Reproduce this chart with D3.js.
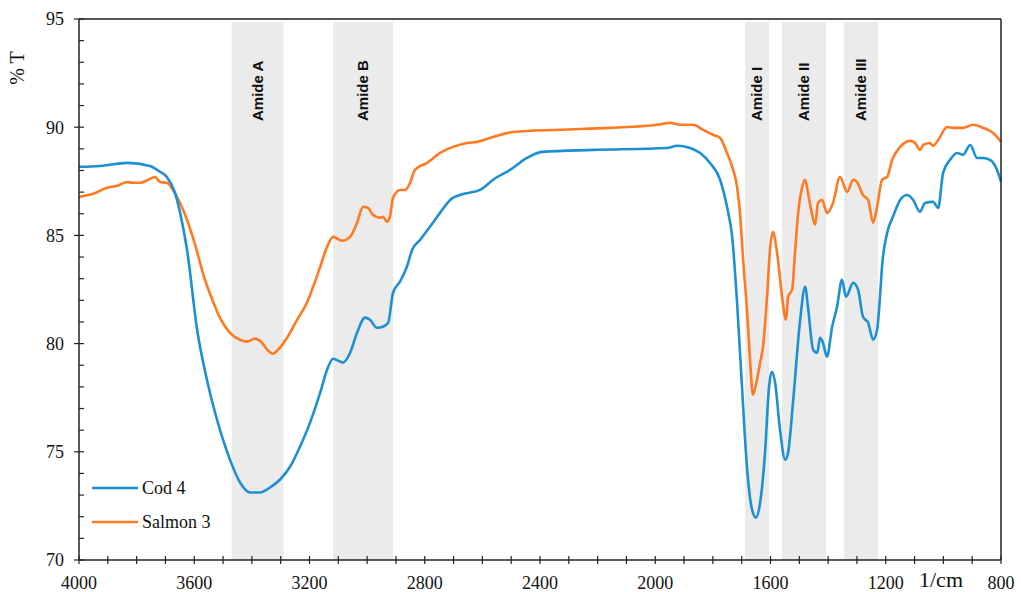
<!DOCTYPE html>
<html>
<head>
<meta charset="utf-8">
<script src="https://cdn.jsdelivr.net/npm/d3@7"></script>
<style>
  html, body { margin: 0; padding: 0; background: #fff; }
  svg { display: block; }
</style>
</head>
<body>
<svg id="chart" width="1021" height="592"></svg>
<script>
// FTIR transmittance spectra (wavenumber in 1/cm, %T)
const codWavenumber = [4000, 3927, 3833, 3754, 3719, 3695, 3667, 3649, 3625, 3590, 3556, 3521, 3476, 3441, 3406, 3372, 3337, 3302, 3267, 3233, 3198, 3163, 3139, 3118, 3084, 3059, 3035, 3007, 2990, 2966, 2945, 2927, 2910, 2886, 2862, 2844, 2816, 2782, 2747, 2712, 2678, 2608, 2563, 2504, 2445, 2393, 2216, 1959, 1924, 1879, 1844, 1810, 1775, 1751, 1733, 1716, 1699, 1681, 1664, 1650, 1636, 1619, 1605, 1595, 1584, 1567, 1549, 1539, 1522, 1497, 1480, 1470, 1452, 1438, 1428, 1418, 1404, 1386, 1369, 1352, 1338, 1313, 1296, 1279, 1261, 1244, 1230, 1220, 1213, 1195, 1175, 1150, 1126, 1105, 1081, 1064, 1036, 1018, 1001, 977, 952, 932, 907, 883, 862, 838, 814, 800];
const codT = [88.17, 88.21, 88.35, 88.21, 87.94, 87.70, 86.97, 86.04, 84.33, 80.64, 78.33, 76.49, 74.64, 73.58, 73.12, 73.12, 73.35, 73.72, 74.32, 75.24, 76.35, 77.73, 78.79, 79.30, 79.12, 79.58, 80.50, 81.20, 81.10, 80.73, 80.78, 80.96, 82.35, 82.86, 83.55, 84.33, 84.80, 85.40, 86.04, 86.64, 86.87, 87.10, 87.57, 88.03, 88.58, 88.86, 88.95, 89.04, 89.14, 89.04, 88.81, 88.35, 87.57, 86.32, 84.93, 81.89, 78.01, 74.18, 72.33, 71.96, 72.65, 74.96, 78.01, 78.70, 78.19, 76.02, 74.64, 74.96, 77.27, 81.10, 82.63, 81.70, 79.72, 79.58, 80.27, 80.04, 79.40, 80.78, 81.70, 82.95, 82.17, 82.81, 82.49, 81.24, 80.96, 80.18, 80.64, 82.17, 83.55, 85.12, 85.86, 86.64, 86.87, 86.64, 86.09, 86.50, 86.55, 86.27, 87.89, 88.49, 88.81, 88.72, 89.18, 88.58, 88.58, 88.49, 88.03, 87.47];

const salmonWavenumber = [4000, 3951, 3903, 3868, 3833, 3813, 3788, 3760, 3736, 3719, 3695, 3674, 3649, 3625, 3600, 3563, 3535, 3511, 3476, 3441, 3417, 3389, 3365, 3347, 3327, 3309, 3278, 3243, 3209, 3181, 3163, 3139, 3118, 3087, 3059, 3035, 3014, 2997, 2980, 2955, 2945, 2931, 2921, 2910, 2886, 2868, 2851, 2834, 2792, 2747, 2702, 2653, 2619, 2563, 2494, 2330, 2157, 1994, 1949, 1914, 1869, 1834, 1799, 1775, 1751, 1733, 1716, 1706, 1695, 1681, 1671, 1661, 1647, 1636, 1626, 1612, 1601, 1591, 1584, 1574, 1560, 1546, 1539, 1525, 1515, 1504, 1490, 1480, 1470, 1459, 1445, 1435, 1421, 1404, 1383, 1359, 1334, 1313, 1300, 1279, 1261, 1244, 1230, 1213, 1195, 1178, 1150, 1116, 1098, 1081, 1070, 1046, 1036, 1018, 987, 966, 932, 897, 862, 828, 800];
const salmonT = [86.78, 86.92, 87.20, 87.29, 87.47, 87.43, 87.43, 87.57, 87.70, 87.47, 87.43, 87.10, 86.50, 85.72, 84.70, 82.95, 81.95, 81.20, 80.50, 80.18, 80.09, 80.23, 80.04, 79.72, 79.53, 79.72, 80.27, 81.10, 81.89, 82.86, 83.55, 84.47, 84.93, 84.75, 84.93, 85.58, 86.32, 86.27, 85.95, 85.81, 85.86, 85.63, 85.86, 86.74, 87.10, 87.10, 87.43, 88.03, 88.35, 88.81, 89.09, 89.27, 89.32, 89.55, 89.78, 89.88, 89.97, 90.11, 90.20, 90.11, 90.11, 89.88, 89.64, 89.50, 88.81, 88.17, 87.24, 86.04, 83.87, 81.43, 79.26, 77.64, 78.33, 79.12, 79.86, 82.17, 84.47, 85.17, 84.80, 83.87, 82.17, 81.10, 82.17, 82.49, 84.20, 86.04, 87.24, 87.57, 86.97, 86.18, 85.49, 86.50, 86.64, 86.04, 86.50, 87.70, 87.01, 87.57, 87.47, 86.87, 86.64, 85.58, 86.32, 87.57, 87.70, 88.49, 89.09, 89.37, 89.27, 88.95, 89.18, 89.27, 89.14, 89.41, 90.01, 89.97, 89.97, 90.11, 89.97, 89.74, 89.32];

// Shaded absorption bands [high, low] in 1/cm
const bandNames = ["Amide A", "Amide B", "Amide I", "Amide II", "Amide III"];
const bandRanges = [[3470, 3290], [3118, 2910], [1688, 1605], [1560, 1407], [1345, 1227]];

const xTicks = d3.range(4000, 799, -100);
const xTickLabels = [4000, 3600, 3200, 2800, 2400, 2000, 1600, 1200, 800];
const yTicks = d3.range(70, 96, 1);
const yTickLabels = [70, 75, 80, 85, 90, 95];

const seriesNames = ["Cod 4", "Salmon 3"];
const seriesColors = ["#1f8fd3", "#ff7a21"];

const svg = d3.select("#chart");
const x = d3.scaleLinear().domain([4000, 800]).range([79, 1001]);
const y = d3.scaleLinear().domain([70, 95]).range([560, 19]);

const serif = "'Liberation Serif', 'Times New Roman', Times, serif";
const sans = "'Liberation Sans', Arial, Helvetica, sans-serif";

// bands
const bands = svg.append("g");
bandRanges.forEach((r, i) => {
  bands.append("rect")
    .attr("x", x(r[0]))
    .attr("y", y(95) + 3)
    .attr("width", x(r[1]) - x(r[0]))
    .attr("height", y(70) - y(95) - 3)
    .attr("fill", "#ebebeb");
  const cx = (x(r[0]) + x(r[1])) / 2;
  bands.append("text")
    .attr("transform", `translate(${cx},121) rotate(-90)`)
    .attr("text-anchor", "start")
    .attr("dy", "0.35em")
    .style("font-family", sans)
    .attr("font-weight", "bold")
    .attr("font-size", 15)
    .attr("fill", "#111")
    .text(bandNames[i]);
});

// spectra
const codData = codWavenumber.map((w, i) => [w, codT[i]]);
const salmonData = salmonWavenumber.map((w, i) => [w, salmonT[i]]);
const line = d3.line().x(d => x(d[0])).y(d => y(d[1])).curve(d3.curveMonotoneX);

svg.append("path").datum(salmonData)
  .attr("d", line).attr("fill", "none")
  .attr("stroke", seriesColors[1]).attr("stroke-width", 2.6)
  .attr("stroke-linejoin", "round");
svg.append("path").datum(codData)
  .attr("d", line).attr("fill", "none")
  .attr("stroke", seriesColors[0]).attr("stroke-width", 2.6)
  .attr("stroke-linejoin", "round");

// frame: top and right
svg.append("line").attr("x1", x(4000)).attr("x2", x(800)).attr("y1", y(95)).attr("y2", y(95))
  .attr("stroke", "#555").attr("stroke-width", 2);
svg.append("line").attr("x1", x(800)).attr("x2", x(800)).attr("y1", y(95)).attr("y2", y(70))
  .attr("stroke", "#222").attr("stroke-width", 1.5);

// y axis
const ya = svg.append("g");
ya.append("line").attr("x1", x(4000)).attr("x2", x(4000)).attr("y1", y(95)).attr("y2", y(70))
  .attr("stroke", "#222").attr("stroke-width", 1.5);
yTicks.forEach(t => {
  const major = t % 5 === 0;
  ya.append("line")
    .attr("x1", x(4000) - (major ? 5 : 0)).attr("x2", x(4000) + 5)
    .attr("y1", y(t)).attr("y2", y(t))
    .attr("stroke", "#222").attr("stroke-width", 1.2);
});
yTickLabels.forEach(t => {
  ya.append("text").attr("x", 64).attr("y", y(t)).attr("dy", "0.35em")
    .attr("text-anchor", "end").style("font-family", serif).attr("font-size", 18)
    .attr("fill", "#111").text(t);
});
svg.append("text").attr("transform", "translate(24,68) rotate(-90)")
  .attr("text-anchor", "middle").style("font-family", serif).attr("font-size", 20)
  .attr("fill", "#111").text("% T");

// x axis
const xa = svg.append("g");
xa.append("line").attr("x1", x(4000)).attr("x2", x(800)).attr("y1", y(70)).attr("y2", y(70))
  .attr("stroke", "#222").attr("stroke-width", 1.5);
xTicks.forEach(t => {
  xa.append("line").attr("x1", x(t)).attr("x2", x(t))
    .attr("y1", y(70) - 4).attr("y2", y(70) + 4)
    .attr("stroke", "#222").attr("stroke-width", 1.2);
});
xTickLabels.forEach(t => {
  xa.append("text").attr("x", x(t)).attr("y", 589)
    .attr("text-anchor", "middle").style("font-family", serif).attr("font-size", 18)
    .attr("fill", "#111").text(t);
});
svg.append("text").attr("x", 941).attr("y", 587)
  .attr("text-anchor", "middle").style("font-family", serif).attr("font-size", 22)
  .attr("fill", "#111").text("1/cm");

// legend
const lg = svg.append("g");
seriesNames.forEach((n, i) => {
  const ly = 488 + i * 34;
  lg.append("line").attr("x1", 92).attr("x2", 138).attr("y1", ly).attr("y2", ly)
    .attr("stroke", seriesColors[i]).attr("stroke-width", 2.6);
  lg.append("text").attr("x", 142).attr("y", ly).attr("dy", "0.35em")
    .style("font-family", serif).attr("font-size", 18).attr("fill", "#111").text(n);
});
</script>
</body>
</html>
